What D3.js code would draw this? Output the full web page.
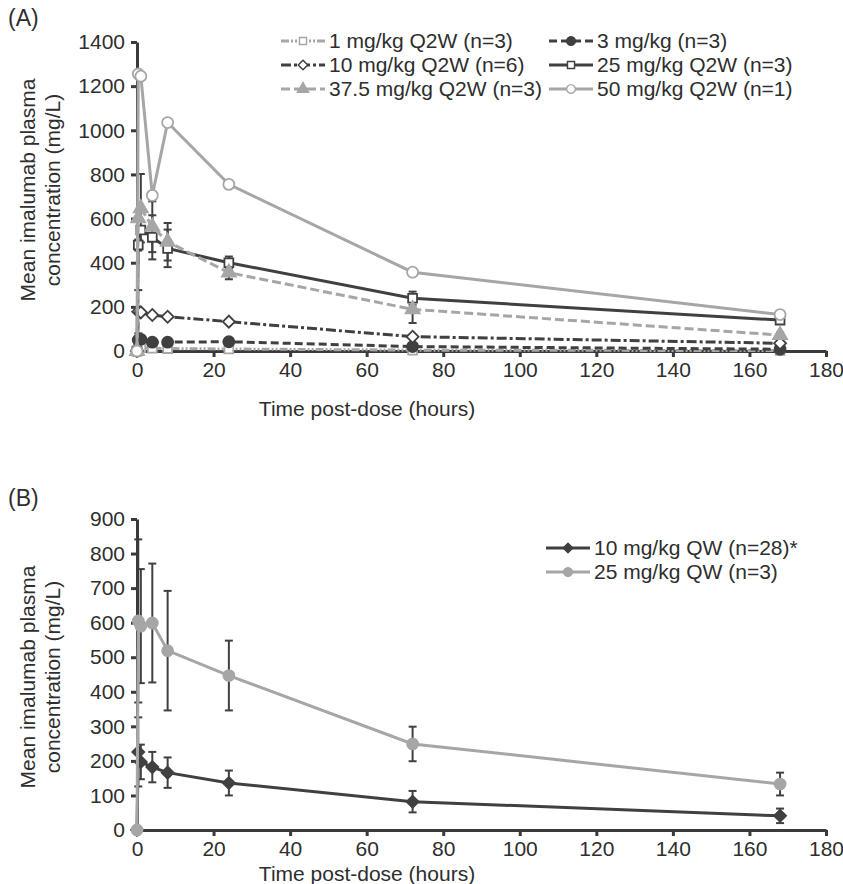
<!DOCTYPE html>
<html>
<head>
<meta charset="utf-8">
<script src="https://cdn.jsdelivr.net/npm/d3@7"></script>
<style>
  body { margin: 0; background: #fff; }
  svg { font-family: "Liberation Sans", Arial, sans-serif; }
</style>
</head>
<body>
<svg id="chart" width="843" height="884"></svg>
<script>
// Panel A: Q2W cohorts
const timesA = [0, 0.33, 1, 4, 8, 24, 72, 168];
const conc1 = [0, 10, 14, 13, 11, 9, 4, 2];
const conc3 = [0, 50, 53, 40, 40, 42, 20, 8];
const conc10 = [0, 178, 175, 163, 155, 133, 65, 35];
const conc25 = [0, 480, 548, 515, 465, 400, 239, 140];
const conc37 = [0, 601, 647, 563, 495, 355, 189, 72];
const conc50 = [0, 1255, 1245, 705, 1035, 755, 357, 165];
const sd10 = [null, 98, null, null, null, null, null, null];
const sd25 = [null, 25, null, 100, 85, 28, 30, 15];
const sd37 = [null, null, 155, 115, 85, 30, 62, 12];

// Panel B: QW cohorts
const timesB = [0, 0.33, 1, 4, 8, 24, 72, 168];
const conc10QW = [0, 226, 197, 182, 166, 136, 82, 41];
const sd10QW = [null, 100, 50, 44, 44, 36, 31, 21];
const conc25QW = [0, 605, 590, 599, 519, 447, 249, 133];
const sd25QW = [null, 236, 165, 172, 173, 101, 50, 33];

const xTicks = [0, 20, 40, 60, 80, 100, 120, 140, 160, 180];
const yTicksA = [0, 200, 400, 600, 800, 1000, 1200, 1400];
const yTicksB = [0, 100, 200, 300, 400, 500, 600, 700, 800, 900];

const dark = "#404040", light = "#a6a6a6", axisCol = "#3a3a3a", textCol = "#2e2e2e";

const seriesA = [
  { label: "1 mg/kg Q2W (n=3)", y: conc1, sd: null, color: light, dash: "8,2,2,2,2,2", sym: "square", fill: "#fff" },
  { label: "3 mg/kg (n=3)", y: conc3, sd: null, color: dark, dash: "8,4", sym: "circle", fill: dark },
  { label: "10 mg/kg Q2W (n=6)", y: conc10, sd: sd10, color: dark, dash: "10,3,3,3", sym: "diamond", fill: "#fff" },
  { label: "25 mg/kg Q2W (n=3)", y: conc25, sd: sd25, color: dark, dash: null, sym: "square", fill: "#fff" },
  { label: "37.5 mg/kg Q2W (n=3)", y: conc37, sd: sd37, color: light, dash: "9,4", sym: "triangle", fill: light },
  { label: "50 mg/kg Q2W (n=1)", y: conc50, sd: null, color: light, dash: null, sym: "circle", fill: "#fff" }
];
const seriesB = [
  { label: "10 mg/kg QW (n=28)*", y: conc10QW, sd: sd10QW, color: dark, dash: null, sym: "diamond", fill: dark },
  { label: "25 mg/kg QW (n=3)", y: conc25QW, sd: sd25QW, color: light, dash: null, sym: "circle", fill: light }
];

const svg = d3.select("#chart");
const x = d3.scaleLinear().domain([0, 180]).range([137, 826]);

function symbolPath(sym) {
  if (sym === "square") return d3.symbol(d3.symbolSquare, 78)();
  if (sym === "circle") return d3.symbol(d3.symbolCircle, 95)();
  if (sym === "triangle") return d3.symbol(d3.symbolTriangle, 85)();
  return d3.symbol(d3.symbolSquare, 72)();
}
function symbolRot(sym) { return sym === "diamond" ? " rotate(45)" : ""; }

function drawPanel(times, series, y, yTicks, titleY, axisTitleY) {
  const g = svg.append("g");

  // error bars
  series.forEach(s => {
    if (!s.sd) return;
    s.sd.forEach((sd, i) => {
      if (sd == null) return;
      const cx = x(times[i]);
      const y1 = y(s.y[i] + sd), y0 = y(Math.max(0, s.y[i] - sd));
      g.append("line").attr("x1", cx).attr("x2", cx).attr("y1", y1).attr("y2", y0)
        .attr("stroke", dark).attr("stroke-width", 2);
      [y1, y0].forEach(yy => g.append("line").attr("x1", cx - 4).attr("x2", cx + 4)
        .attr("y1", yy).attr("y2", yy).attr("stroke", dark).attr("stroke-width", 2));
    });
  });

  // axes
  const yAxis = g.append("g").attr("transform", `translate(${x(0)},0)`)
    .call(d3.axisLeft(y).tickValues(yTicks).tickFormat(d3.format("d"))
      .tickSize(6).tickSizeOuter(0).tickPadding(6));
  const xAxis = g.append("g").attr("transform", `translate(0,${y(0)})`)
    .call(d3.axisBottom(x).tickValues(xTicks).tickSize(6).tickSizeOuter(0).tickPadding(5));
  [yAxis, xAxis].forEach(a => {
    a.select(".domain").attr("stroke", axisCol).attr("stroke-width", 3);
    a.selectAll(".tick line").attr("stroke", axisCol).attr("stroke-width", 3);
    a.selectAll("text").attr("font-size", 21).attr("fill", textCol)
      .attr("font-family", "'Liberation Sans', Arial, sans-serif");
  });

  // lines and markers
  const line = d3.line().x((d, i) => x(times[i])).y(d => y(d));
  series.forEach(s => {
    g.append("path").datum(s.y).attr("d", line).attr("fill", "none")
      .attr("stroke", s.color).attr("stroke-width", 3)
      .attr("stroke-dasharray", s.dash);
    g.selectAll(null).data(s.y).join("path")
      .attr("d", symbolPath(s.sym))
      .attr("transform", (d, i) => `translate(${x(times[i])},${y(d)})${symbolRot(s.sym)}`)
      .attr("fill", s.fill).attr("stroke", s.color).attr("stroke-width", 1.8);
  });

  // axis titles
  const yt = g.append("text").attr("transform", `translate(0,${titleY}) rotate(-90)`)
    .attr("text-anchor", "middle").attr("font-size", 21).attr("fill", textCol);
  yt.append("tspan").attr("x", 0).attr("y", 35).text("Mean imalumab plasma");
  yt.append("tspan").attr("x", 0).attr("y", 60).text("concentration (mg/L)");
  g.append("text").attr("x", 367).attr("y", axisTitleY).attr("text-anchor", "middle")
    .attr("font-size", 21).attr("fill", textCol).text("Time post-dose (hours)");
  return g;
}

function legendItem(g, s, lx, ly) {
  g.append("line").attr("x1", lx).attr("x2", lx + 44).attr("y1", ly).attr("y2", ly)
    .attr("stroke", s.color).attr("stroke-width", 3).attr("stroke-dasharray", s.dash);
  g.append("path").attr("d", symbolPath(s.sym))
    .attr("transform", `translate(${lx + 22},${ly})${symbolRot(s.sym)} scale(0.8)`)
    .attr("fill", s.fill).attr("stroke", s.color).attr("stroke-width", 1.8);
  g.append("text").attr("x", lx + 48).attr("y", ly + 7).attr("font-size", 21)
    .attr("fill", textCol).text(s.label);
}

// Panel A
const yA = d3.scaleLinear().domain([0, 1400]).range([351, 42]);
const gA = drawPanel(timesA, seriesA, yA, yTicksA, 190, 416);
svg.append("text").attr("x", 8).attr("y", 26).attr("font-size", 23).attr("fill", textCol).text("(A)");
seriesA.forEach((s, i) => {
  const col = i % 2, row = Math.floor(i / 2);
  legendItem(gA, s, col === 0 ? 281 : 549, 41 + row * 24);
});

// Panel B
const yB = d3.scaleLinear().domain([0, 900]).range([830, 519]);
const gB = drawPanel(timesB, seriesB, yB, yTicksB, 677, 881);
svg.append("text").attr("x", 8).attr("y", 506).attr("font-size", 23).attr("fill", textCol).text("(B)");
seriesB.forEach((s, i) => legendItem(gB, s, 546, 548 + i * 24));
</script>
</body>
</html>
